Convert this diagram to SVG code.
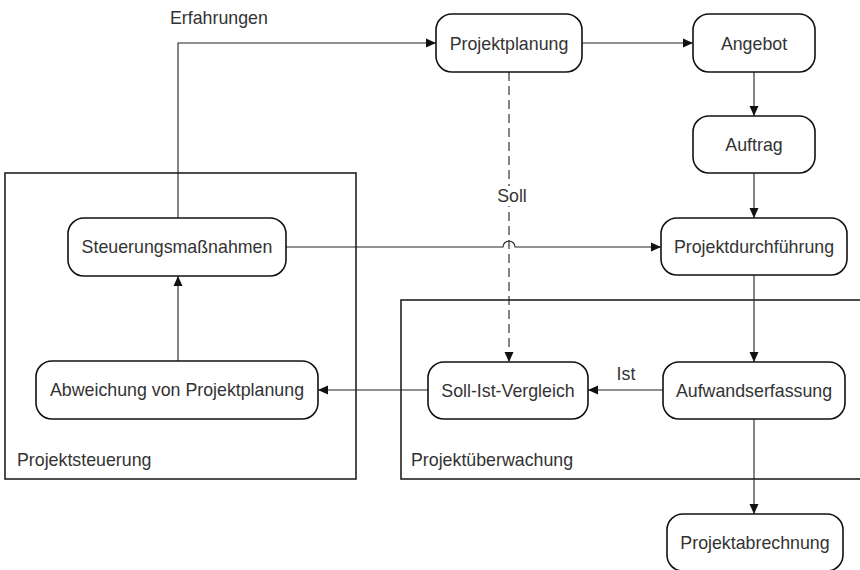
<svg xmlns="http://www.w3.org/2000/svg" width="860" height="570" viewBox="0 0 860 570">
<style>
text{font-family:"Liberation Sans",Arial,sans-serif;font-size:17.8px;fill:#333}
.node rect{fill:#fff;stroke:#111;stroke-width:1.6}
.node text{text-anchor:middle}
.box{fill:none;stroke:#222;stroke-width:1.6}
.c{fill:none;stroke:#222;stroke-width:1.1}
.d{stroke-dasharray:9,5}
</style>
<defs>
<marker id="ah" markerUnits="userSpaceOnUse" markerWidth="10" markerHeight="10" refX="10" refY="5" orient="auto">
<path d="M0,0.5 L10,5 L0,9.5 z" fill="#111"/>
</marker>
</defs>
<rect width="860" height="570" fill="#fff"/>
<g id="group-projektsteuerung">
<rect class="box" x="5" y="173" width="351" height="306"/>
<text x="17" y="466">Projektsteuerung</text>
</g>
<g id="group-projektueberwachung">
<rect class="box" x="401" y="300" width="480" height="179"/>
<text x="411" y="466">Projektüberwachung</text>
</g>
<g id="connectors">
<path class="c" d="M178,218 V43 H436" marker-end="url(#ah)"/>
<text x="170" y="24">Erfahrungen</text>
<path class="c" d="M582,43 H693" marker-end="url(#ah)"/>
<path class="c" d="M754,72 V116" marker-end="url(#ah)"/>
<path class="c" d="M754,173 V218" marker-end="url(#ah)"/>
<path class="c d" d="M509,72 V362" marker-end="url(#ah)"/>
<rect x="496" y="186" width="32" height="20" fill="#fff"/>
<text x="512" y="202" text-anchor="middle">Soll</text>
<path class="c" d="M286,247 H503 A6,6 0 0 1 515,247 H661" marker-end="url(#ah)"/>
<path class="c" d="M754,275 V362" marker-end="url(#ah)"/>
<path class="c" d="M663,390 H588" marker-end="url(#ah)"/>
<text x="626" y="380" text-anchor="middle">Ist</text>
<path class="c" d="M428,390 H318" marker-end="url(#ah)"/>
<path class="c" d="M178,361 V276" marker-end="url(#ah)"/>
<path class="c" d="M754,419 V514" marker-end="url(#ah)"/>
</g>
<g id="node-projektplanung" class="node">
<rect x="436" y="14" width="146" height="58" rx="16"/>
<text x="509" y="50">Projektplanung</text>
</g>
<g id="node-angebot" class="node">
<rect x="693" y="14" width="122" height="58" rx="16"/>
<text x="754" y="50">Angebot</text>
</g>
<g id="node-auftrag" class="node">
<rect x="693" y="116" width="122" height="57" rx="16"/>
<text x="754" y="151">Auftrag</text>
</g>
<g id="node-projektdurchfuehrung" class="node">
<rect x="661" y="218" width="186" height="57" rx="16"/>
<text x="754" y="253">Projektdurchführung</text>
</g>
<g id="node-steuerungsmassnahmen" class="node">
<rect x="68" y="218" width="218" height="58" rx="16"/>
<text x="177" y="253">Steuerungsmaßnahmen</text>
</g>
<g id="node-abweichung" class="node">
<rect x="36" y="361" width="282" height="58" rx="16"/>
<text x="177" y="396">Abweichung von Projektplanung</text>
</g>
<g id="node-soll-ist-vergleich" class="node">
<rect x="428" y="362" width="160" height="57" rx="16"/>
<text x="508" y="397">Soll-Ist-Vergleich</text>
</g>
<g id="node-aufwandserfassung" class="node">
<rect x="663" y="362" width="182" height="57" rx="16"/>
<text x="754" y="397">Aufwandserfassung</text>
</g>
<g id="node-projektabrechnung" class="node">
<rect x="667" y="514" width="176" height="57" rx="16"/>
<text x="755" y="549">Projektabrechnung</text>
</g>
</svg>
